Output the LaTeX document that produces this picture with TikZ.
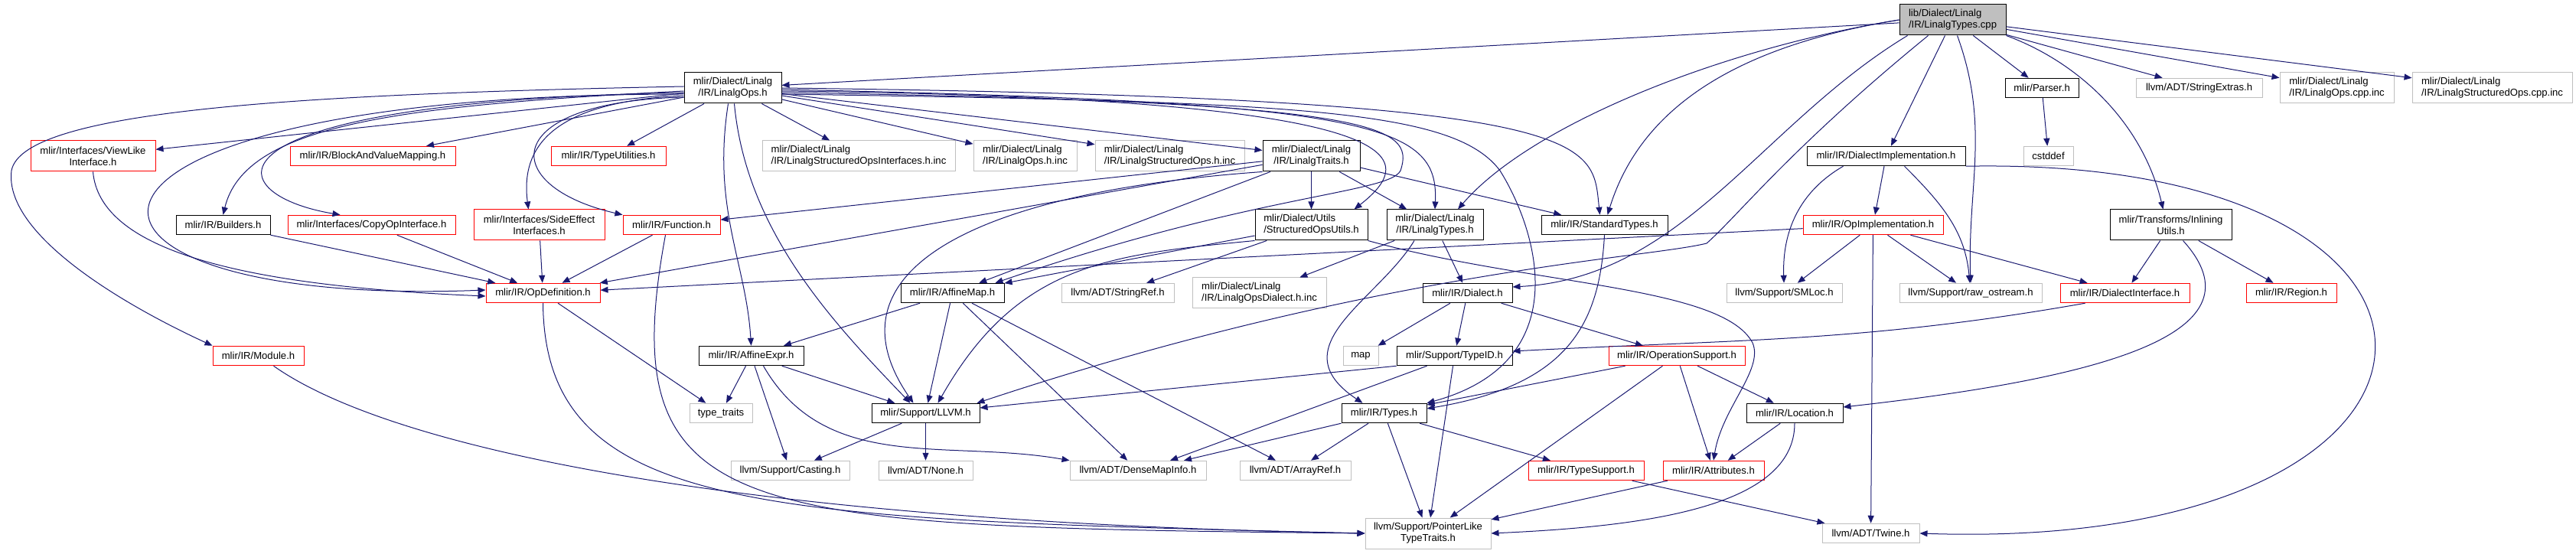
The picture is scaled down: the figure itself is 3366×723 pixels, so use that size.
\documentclass[tikz,border=0pt]{standalone}
\usepackage{fontspec}
\setmainfont{Liberation Sans}
\usetikzlibrary{arrows.meta}
\definecolor{incblue}{RGB}{25,25,112}
\definecolor{grey75}{RGB}{191,191,191}
\tikzset{%
  hfile/.style={draw, line width=0.5pt, inner sep=0pt, minimum height=12.75pt,
                align=center, font=\fontsize{6.55pt}{7.5pt}\selectfont},
  hdr/.style={hfile, draw=black},
  trunc/.style={hfile, draw=red},
  ext/.style={hfile, draw=grey75},
  src/.style={hfile, draw=black, fill=grey75},
  two/.style={minimum height=20pt},
  wd/.style={minimum width=#1*0.5pt},
  inc/.style={draw=incblue, line width=0.5pt, -{Triangle[length=5pt,width=4pt]}},
}

\begin{document}
\begin{tikzpicture}[x=0.5pt, y=0.5pt]
    \useasboundingbox (0,0) rectangle (3366,723);

    %top row
    \node[src, two, wd=139, align=left] (ROOT) at (2551.5,697) {lib/Dialect/Linalg\\/IR/LinalgTypes.cpp};
    \node[hdr, two, wd=127] (OPS) at (957.5,608) {mlir/Dialect/Linalg\\/IR/LinalgOps.h};
    \node[hdr, wd=96] (PAR) at (2668,608) {mlir/Parser.h};
    \node[ext, wd=165] (SEX) at (2873.5,608) {llvm/ADT/StringExtras.h};
    \node[ext, two, wd=149, align=left] (OCI) at (3053.5,608) {mlir/Dialect/Linalg\\/IR/LinalgOps.cpp.inc};
    \node[ext, two, wd=209, align=left] (SCI) at (3256.5,608) {mlir/Dialect/Linalg\\/IR/LinalgStructuredOps.cpp.inc};

    %second row
    \node[trunc, two, wd=163] (VLI) at (121.5,519) {mlir/Interfaces/ViewLike\\Interface.h};
    \node[trunc, wd=216] (BVM) at (487,519) {mlir/IR/BlockAndValueMapping.h};
    \node[trunc, wd=150] (TUT) at (795,519) {mlir/IR/TypeUtilities.h};
    \node[ext, two, wd=252, align=left] (SOI) at (1122,519) {mlir/Dialect/Linalg\\/IR/LinalgStructuredOpsInterfaces.h.inc};
    \node[ext, two, wd=135, align=left] (OHI) at (1339.5,519) {mlir/Dialect/Linalg\\/IR/LinalgOps.h.inc};
    \node[ext, two, wd=195, align=left] (SHI) at (1528.5,519) {mlir/Dialect/Linalg\\/IR/LinalgStructuredOps.h.inc};
    \node[hdr, two, wd=127] (TRT) at (1713.5,519) {mlir/Dialect/Linalg\\/IR/LinalgTraits.h};
    \node[hdr, wd=207] (DIM) at (2464.5,519) {mlir/IR/DialectImplementation.h};
    \node[ext, wd=65] (CST) at (2676.5,519) {cstddef};

    %third row
    \node[hdr, wd=123] (BLD) at (291.5,429) {mlir/IR/Builders.h};
    \node[trunc, wd=219] (COI) at (485.5,429) {mlir/Interfaces/CopyOpInterface.h};
    \node[trunc, two, wd=171] (SEI) at (704.5,429) {mlir/Interfaces/SideEffect\\Interfaces.h};
    \node[trunc, wd=127] (FUN) at (877.5,429) {mlir/IR/Function.h};
    \node[hdr, two, wd=147, align=left] (SOU) at (1713.5,429) {mlir/Dialect/Utils\\/StructuredOpsUtils.h};
    \node[hdr, two, wd=126] (TYP) at (1875,429) {mlir/Dialect/Linalg\\/IR/LinalgTypes.h};
    \node[hdr, wd=165] (STD) at (2096.5,429) {mlir/IR/StandardTypes.h};
    \node[trunc, wd=183] (OIM) at (2447.5,429) {mlir/IR/OpImplementation.h};
    \node[hdr, two, wd=159] (INL) at (2836.5,429) {mlir/Transforms/Inlining\\Utils.h};

    %fourth row
    \node[trunc, wd=149] (ODF) at (709.5,340) {mlir/IR/OpDefinition.h};
    \node[hdr, wd=135] (AMP) at (1244.5,340) {mlir/IR/AffineMap.h};
    \node[ext, wd=147] (SRF) at (1460.5,340) {llvm/ADT/StringRef.h};
    \node[ext, two, wd=175, align=left] (ODI) at (1645.5,340) {mlir/Dialect/Linalg\\/IR/LinalgOpsDialect.h.inc};
    \node[hdr, wd=117] (DIA) at (1917.5,340) {mlir/IR/Dialect.h};
    \node[ext, wd=151] (SML) at (2331.5,340) {llvm/Support/SMLoc.h};
    \node[ext, wd=186] (ROS) at (2575,340) {llvm/Support/raw\_ostream.h};
    \node[trunc, wd=169] (DIF) at (2776.5,340) {mlir/IR/DialectInterface.h};
    \node[trunc, wd=118] (REG) at (2994,340) {mlir/IR/Region.h};

    %fifth row
    \node[trunc, wd=119] (MOD) at (337.5,258) {mlir/IR/Module.h};
    \node[hdr, wd=137] (AEX) at (981.5,258) {mlir/IR/AffineExpr.h};
    \node[ext, wd=46] (MAP) at (1778,258) {map};
    \node[hdr, wd=151] (TID) at (1900.5,258) {mlir/Support/TypeID.h};
    \node[trunc, wd=178] (OSU) at (2191,258) {mlir/IR/OperationSupport.h};

    %sixth row
    \node[ext, wd=82] (TTR) at (942,183) {type\_traits};
    \node[hdr, wd=141] (LLV) at (1209.5,183) {mlir/Support/LLVM.h};
    \node[hdr, wd=111] (TYS) at (1808.5,183) {mlir/IR/Types.h};
    \node[hdr, wd=126] (LOC) at (2345,183) {mlir/IR/Location.h};

    %seventh row
    \node[ext, wd=155] (CAS) at (1032.5,108) {llvm/Support/Casting.h};
    \node[ext, wd=123] (NON) at (1209.5,108) {llvm/ADT/None.h};
    \node[ext, wd=178] (DMI) at (1487,108) {llvm/ADT/DenseMapInfo.h};
    \node[ext, wd=145] (ARF) at (1692.5,108) {llvm/ADT/ArrayRef.h};
    \node[trunc, wd=151] (TSP) at (2072.5,108) {mlir/IR/TypeSupport.h};
    \node[trunc, wd=132] (ATT) at (2239,108) {mlir/IR/Attributes.h};

    %bottom row
    \node[ext, two, wd=164] (PLT) at (1866,26) {llvm/Support/PointerLike\\TypeTraits.h};
    \node[ext, wd=127] (TWN) at (2444.5,26) {llvm/ADT/Twine.h};

    %includes of the source file
    \draw[inc] (ROOT) -- (OPS);
    \draw[inc] (ROOT.west) .. controls (2250,660) and (2000,560) .. ([xshift=15pt]TYP.north);
    \draw[inc] (ROOT.west) .. controls (2250,660) and (2140,570) .. ([xshift=2pt]STD.north);
    \draw[inc] ([xshift=5.5pt]ROOT.south west) .. controls (2300,560) and (2200,360) .. ([yshift=4pt]DIA.east);
    \draw[inc] ([xshift=19pt]ROOT.south west) .. controls (2340,530) and (2270,440) .. (2230,405)
               .. controls (2150,385) and (1800,370) .. ([xshift=-2pt]LLV.north east);
    \draw[inc] (ROOT) -- (DIM);
    \draw[inc] ([xshift=3pt]ROOT.south) to[out=-70,in=92] (ROS.north);
    \draw[inc] (ROOT) -- (PAR);
    \draw[inc] (ROOT.south east) .. controls (2720,640) and (2800,560) .. ([xshift=-5pt]INL.north);
    \draw[inc] (ROOT) -- (SEX);
    \draw[inc] (ROOT) -- (OCI);
    \draw[inc] (ROOT) -- (SCI);

    %LinalgOps.h
    \draw[inc] ([yshift=1pt]OPS.west) .. controls (400,600) and (30,580) .. (15,500)
               .. controls (5,420) and (150,330) .. (MOD.north west);
    \draw[inc] (OPS) -- (VLI);
    \draw[inc] (OPS) -- (BVM);
    \draw[inc] (OPS) -- (TUT);
    \draw[inc] (OPS) -- (SOI);
    \draw[inc] (OPS) -- (OHI);
    \draw[inc] (OPS) -- (SHI);
    \draw[inc] (OPS) -- (TRT);
    \draw[inc] ([yshift=-2pt]OPS.west) .. controls (520,585) and (320,560) .. (BLD.north);
    \draw[inc] ([yshift=-3pt]OPS.west) .. controls (250,590) and (280,470) .. ([xshift=-20.5pt]COI.north);
    \draw[inc] ([yshift=-4pt]OPS.west) .. controls (0,600) and (20,320) .. ([yshift=2pt]ODF.west);
    \draw[inc] ([yshift=-5pt]OPS.west) .. controls (720,590) and (680,530) .. ([xshift=-7pt]SEI.north);
    \draw[inc] ([yshift=-6pt]OPS.west) .. controls (650,590) and (650,480) .. (FUN.north west);
    \draw[inc] ([xshift=-3pt]OPS.south) .. controls (930,450) and (975,380) .. (AEX.north);
    \draw[inc] ([xshift=1pt]OPS.south) .. controls (975,420) and (1090,300) .. ([xshift=-10pt]LLV.north);
    \draw[inc] ([yshift=-1pt]OPS.east) .. controls (1800,590) and (1880,560) .. (TYP.north);
    \draw[inc] ([yshift=-2pt]OPS.east) .. controls (1850,595) and (1860,520) .. ([xshift=28pt]SOU.north);
    \draw[inc] ([yshift=-3pt]OPS.east) .. controls (1800,590) and (1850,560) .. (1830,500)
               .. controls (1815,470) and (1640,470) .. ([xshift=-6pt]AMP.north east);
    \draw[inc] (OPS.east) .. controls (2100,595) and (2080,540) .. ([xshift=-3pt]STD.north);
    \draw[inc] ([yshift=-4pt]OPS.east) .. controls (1700,590) and (1900,580) .. (1960,500)
               .. controls (2010,420) and (2060,250) .. (TYS.north east);

    %LinalgTraits.h
    \draw[inc] (TRT) -- (SOU);
    \draw[inc] (TRT) -- (TYP);
    \draw[inc] (TRT) -- (STD);
    \draw[inc] (TRT) -- (FUN);
    \draw[inc] (TRT) -- (ODF);
    \draw[inc] (TRT) -- (AMP);
    \draw[inc] (TRT.south west) .. controls (1250,470) and (1080,360) .. ([xshift=-8pt]LLV.north);

    %StructuredOpsUtils.h
    \draw[inc] (SOU) -- (AMP);
    \draw[inc] (SOU.south west) .. controls (1450,390) and (1330,380) .. ([xshift=8pt]LLV.north);
    \draw[inc] (SOU) -- (SRF);
    \draw[inc] (SOU.south east) .. controls (2000,350) and (2250,350) .. (2290,275)
               .. controls (2305,240) and (2250,190) .. (ATT.north);

    %LinalgTypes.h and StandardTypes.h
    \draw[inc] (TYP) -- (ODI);
    \draw[inc] ([xshift=-13.5pt]TYP.south) .. controls (1800,330) and (1670,270) .. ([xshift=-14pt]TYS.north);
    \draw[inc] (TYP) -- (DIA);
    \draw[inc] (STD.south) .. controls (2090,300) and (2050,220) .. ([yshift=3pt]TYS.east);

    %DialectImplementation.h
    \draw[inc] (DIM) -- (OIM);
    \draw[inc] ([xshift=-28pt]DIM.south) to[out=-150,in=92] (SML);
    \draw[inc] ([xshift=12pt]DIM.south) to[out=-45,in=95] (ROS);
    \draw[inc] (DIM.south east) .. controls (3300,520) and (3280,0) .. (TWN.east);

    %OpImplementation.h
    \draw[inc] (OIM) -- (SML);
    \draw[inc] (OIM) -- (TWN);
    \draw[inc] (OIM) -- (ROS);
    \draw[inc] (OIM) -- (DIF);
    \draw[inc] (OIM) -- (ODF);

    %Parser.h and InliningUtils.h
    \draw[inc] (PAR) -- (CST);
    \draw[inc] (INL) -- (DIF);
    \draw[inc] (INL) -- (REG);
    \draw[inc] ([xshift=8pt]INL.south) .. controls (2960,290) and (2760,230) .. ([yshift=4pt]LOC.east);

    %Dialect.h and DialectInterface.h
    \draw[inc] (DIA) -- (MAP);
    \draw[inc] (DIA) -- (TID);
    \draw[inc] (DIA) -- (OSU);
    \draw[inc] ([xshift=-26pt]DIF.south) to[out=190,in=3] ([yshift=3pt]TID.east);

    %TypeID.h and OperationSupport.h
    \draw[inc] (TID.south west) -- ([yshift=3.5pt]LLV.east);
    \draw[inc] (TID) -- ([xshift=21pt]DMI.north);
    \draw[inc] (TID) -- (PLT);
    \draw[inc] (OSU) -- (TYS);
    \draw[inc] (OSU) -- (PLT);
    \draw[inc] (OSU) -- (ATT);
    \draw[inc] (OSU) -- (LOC);

    %Types.h
    \draw[inc] (TYS) -- ([xshift=30pt]DMI.north);
    \draw[inc] (TYS) -- (ARF);
    \draw[inc] (TYS) -- (PLT);
    \draw[inc] (TYS) -- (TSP);

    %AffineMap.h and AffineExpr.h
    \draw[inc] (AMP) -- (AEX);
    \draw[inc] (AMP) -- (LLV);
    \draw[inc] (AMP) -- (DMI);
    \draw[inc] (AMP) -- (ARF);
    \draw[inc] (AEX) -- (TTR);
    \draw[inc] (AEX) -- (CAS);
    \draw[inc] (AEX) -- (LLV);
    \draw[inc] ([xshift=8pt]AEX.south) to[out=-60,in=170] (DMI.north west);

    %LLVM.h
    \draw[inc] (LLV) -- (NON);
    \draw[inc] (LLV) -- (CAS);

    %OpDefinition.h, Function.h, Module.h
    \draw[inc] (ODF) -- (TTR);
    \draw[inc] (ODF.south) .. controls (712,50) and (1000,45) .. (PLT.west);
    \draw[inc] (FUN) -- (ODF);
    \draw[inc] ([xshift=-4pt]FUN.south) .. controls (800,40) and (960,35) .. (PLT.west);
    \draw[inc] ([xshift=10pt]MOD.south) .. controls (520,130) and (1000,40) .. (PLT.west);

    %interface headers
    \draw[inc] (VLI.south) .. controls (130,400) and (300,350) .. ([yshift=-2pt]ODF.west);
    \draw[inc] (BLD) -- (ODF);
    \draw[inc] (COI) -- (ODF);
    \draw[inc] (SEI) -- (ODF);

    %lower headers
    \draw[inc] (TSP) -- (TWN);
    \draw[inc] (ATT) -- (PLT);
    \draw[inc] (LOC) -- (ATT);
    \draw[inc] (LOC.south) .. controls (2345,60) and (2150,35) .. (PLT.east);

\end{tikzpicture}
\end{document}
